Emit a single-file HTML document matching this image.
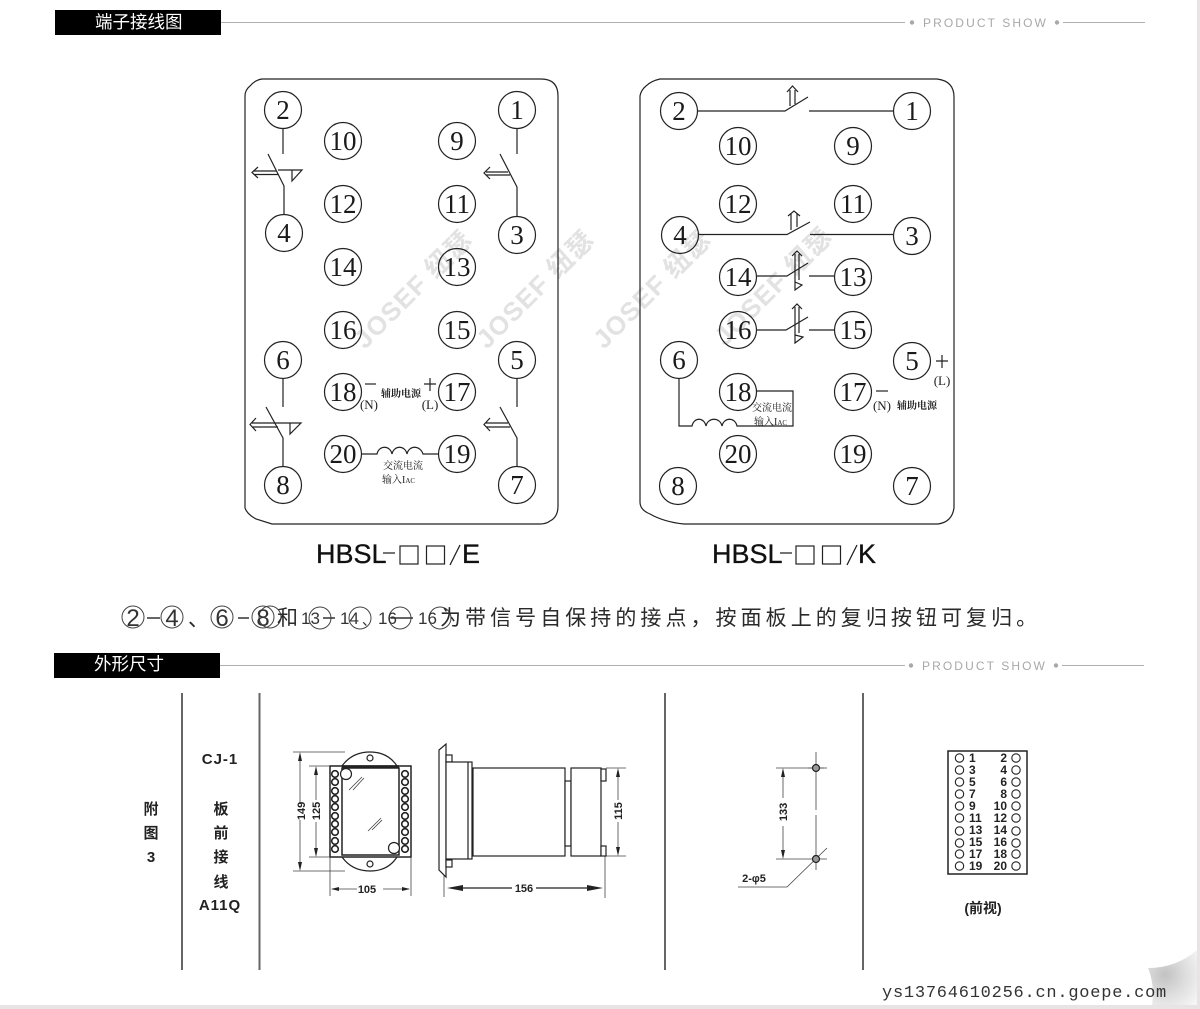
<!DOCTYPE html>
<html lang="zh">
<head>
<meta charset="utf-8">
<title>端子接线图</title>
<style>
html,body{margin:0;padding:0;background:#fff;width:1200px;height:1009px;overflow:hidden}
svg{display:block}
.n{font-family:"Liberation Serif","Noto Serif CJK SC",serif;font-size:27px;fill:#1a1a1a;text-anchor:middle}
.c{fill:none;stroke:#222;stroke-width:1.2}
.l{fill:none;stroke:#222;stroke-width:1.2}
.t{font-family:"Liberation Serif","Noto Serif CJK SC",serif;font-size:10px;fill:#222;text-anchor:middle}
.s{font-family:"Liberation Serif",serif;font-size:13px;fill:#222;text-anchor:middle}
.h{font-family:"Liberation Sans",sans-serif;font-size:27px;fill:#111;stroke:#111;stroke-width:.3}
.wm{font-family:"Liberation Sans","Noto Sans CJK SC",sans-serif;font-size:26px;font-weight:bold;fill:#e2e2e2;letter-spacing:1.2px}
.bar{font-family:"Liberation Sans","Noto Sans CJK SC",sans-serif;font-size:17.5px;fill:#fff}
.ps{font-family:"Liberation Sans",sans-serif;font-size:12px;fill:#a8a8a8;letter-spacing:2.1px}
.d{font-family:"Liberation Sans","Noto Sans CJK SC",sans-serif;font-size:11px;font-weight:bold;fill:#222;text-anchor:middle}
.b{font-family:"Liberation Sans","Noto Sans CJK SC",sans-serif;font-size:15px;font-weight:bold;fill:#222;text-anchor:middle}
.sn{font-family:"Liberation Sans",sans-serif;font-size:24px;fill:#333;text-anchor:middle}
.sm{font-family:"Liberation Sans",sans-serif;font-size:17px;fill:#333}
.cj{font-family:"Liberation Sans","Noto Sans CJK SC",sans-serif;font-size:21px;fill:#2a2a2a}
</style>
</head>
<body>
<svg width="1200" height="1009" viewBox="0 0 1200 1009" xmlns="http://www.w3.org/2000/svg">
<defs>
<radialGradient id="curl" gradientUnits="userSpaceOnUse" cx="1165" cy="975" r="42">
<stop offset="0" stop-color="#c2c2c2"/><stop offset="0.5" stop-color="#dedede"/><stop offset="1" stop-color="#f6f6f6"/>
</radialGradient>
</defs>
<rect width="1200" height="1009" fill="#fff"/>
<rect x="1197" y="0" width="3" height="1009" fill="#e8e4e6"/>
<rect x="0" y="1005" width="1200" height="4" fill="#e8e4e6"/>

<!-- watermarks -->
<g class="wm">
<text transform="translate(365,350) rotate(-45)">JOSEF 纽瑟</text>
<text transform="translate(487,350) rotate(-45)">JOSEF 纽瑟</text>
<text transform="translate(604,350) rotate(-45)">JOSEF 纽瑟</text>
<text transform="translate(725,347) rotate(-45)">JOSEF 纽瑟</text>
</g>

<!-- section headers -->
<rect x="55" y="10" width="166" height="25" fill="#000"/>
<text x="95" y="28" class="bar">端子接线图</text>
<path d="M221 22.5H905M1063 22.5H1145" stroke="#b0b0b0" stroke-width="1" fill="none"/>
<circle cx="912" cy="22.5" r="2.2" fill="#a8a8a8"/><circle cx="1057" cy="22.5" r="2.2" fill="#a8a8a8"/>
<text x="923" y="27" class="ps">PRODUCT SHOW</text>

<rect x="54" y="653" width="166" height="25" fill="#000"/>
<text x="94" y="670" class="bar">外形尺寸</text>
<path d="M220 665.5H905M1062 665.5H1144" stroke="#b0b0b0" stroke-width="1" fill="none"/>
<circle cx="911" cy="665.5" r="2.2" fill="#a8a8a8"/><circle cx="1056" cy="665.5" r="2.2" fill="#a8a8a8"/>
<text x="922" y="670" class="ps">PRODUCT SHOW</text>

<!-- left panel -->
<path class="l" d="M262 79H541Q558 79 558 96V506Q558 517 550 521Q546 524 540 524H272L256 519Q247 514 245 508V96Q245 90 250 86Q255 80 262 79Z"/>
<g class="c">
<circle cx="283" cy="110" r="18.5"/><circle cx="517" cy="110" r="18.5"/>
<circle cx="343" cy="141" r="18.5"/><circle cx="457" cy="141" r="18.5"/>
<circle cx="343" cy="204" r="18.5"/><circle cx="457" cy="204" r="18.5"/>
<circle cx="284" cy="233" r="18.5"/><circle cx="517" cy="235" r="18.5"/>
<circle cx="343" cy="267" r="18.5"/><circle cx="457" cy="267" r="18.5"/>
<circle cx="343" cy="330" r="18.5"/><circle cx="457" cy="330" r="18.5"/>
<circle cx="283" cy="360" r="18.5"/><circle cx="517" cy="360" r="18.5"/>
<circle cx="343" cy="392" r="18.5"/><circle cx="457" cy="392" r="18.5"/>
<circle cx="343" cy="454" r="18.5"/><circle cx="457" cy="454" r="18.5"/>
<circle cx="283" cy="485" r="18.5"/><circle cx="517" cy="485" r="18.5"/>
</g>
<g class="n">
<text x="283" y="119">2</text><text x="517" y="119">1</text>
<text x="343" y="150">10</text><text x="457" y="150">9</text>
<text x="343" y="213">12</text><text x="457" y="213">11</text>
<text x="284" y="242">4</text><text x="517" y="244">3</text>
<text x="343" y="276">14</text><text x="457" y="276">13</text>
<text x="343" y="339">16</text><text x="457" y="339">15</text>
<text x="283" y="369">6</text><text x="517" y="369">5</text>
<text x="343" y="401">18</text><text x="457" y="401">17</text>
<text x="343" y="463">20</text><text x="457" y="463">19</text>
<text x="283" y="494">8</text><text x="517" y="494">7</text>
</g>
<g class="l">
<path d="M283 129V154M268 154L284 186V214"/>
<path d="M254 171H276M254 174.5H278M258 167L252 172.5L258 178"/>
<path d="M278 170H302L292 181V170"/>
<path d="M517 129V154M500 154L517 187V216"/>
<path d="M486 172H508M486 175H510M490 167L484 173L490 179"/>
<path d="M283 378V407M266 407L283 438V466"/>
<path d="M252 423H276M252 427H278M256 418L250 424.5L256 431"/>
<path d="M276 423H301L290 434V423"/>
<path d="M517 378V407M500 407L517 438V466"/>
<path d="M486 423H508M486 427H510M490 418L484 424.5L490 431"/>
<path d="M362 454H377C379 445 390 445 392 454C394 445 405 445 407 454C409 445 420 445 423 454H438"/>
<path d="M365 384H376"/>
<path d="M424 384H436M430 378V391"/>
</g>
<text x="401" y="397" class="t" font-weight="bold">辅助电源</text>
<text x="369" y="409" class="s">(N)</text>
<text x="430" y="409" class="s">(L)</text>
<text x="403" y="469" class="t">交流电流</text>
<text x="382" y="483" class="t" style="text-anchor:start">输入I<tspan style="font-size:7px">AC</tspan></text>

<text x="316" y="563" class="h">HBSL</text>
<path d="M383 553H395M450 565L460 545" stroke="#222" stroke-width="1.3" fill="none"/>
<rect x="400" y="546" width="18" height="18" class="l"/>
<rect x="426.500" y="546" width="18" height="18" class="l"/>
<text x="462" y="563" class="h">E</text>

<!-- right panel -->
<path class="l" d="M660 79H937Q954 81 954 97V508Q952 522 938 524H684Q664 522 650 514Q640 510 640 502V96Q641 90 646 86Q651 81 660 79Z"/>
<g class="c">
<circle cx="679" cy="111" r="18.5"/><circle cx="912" cy="111" r="18.5"/>
<circle cx="738" cy="146" r="18.5"/><circle cx="853" cy="146" r="18.5"/>
<circle cx="738" cy="204" r="18.5"/><circle cx="853" cy="204" r="18.5"/>
<circle cx="680" cy="235" r="18.5"/><circle cx="912" cy="236" r="18.5"/>
<circle cx="738" cy="277" r="18.5"/><circle cx="853" cy="277" r="18.5"/>
<circle cx="738" cy="330" r="18.5"/><circle cx="853" cy="330" r="18.5"/>
<circle cx="679" cy="360" r="18.5"/><circle cx="912" cy="361" r="18.5"/>
<circle cx="738" cy="392" r="18.5"/><circle cx="853" cy="392" r="18.5"/>
<circle cx="738" cy="454" r="18.5"/><circle cx="853" cy="454" r="18.5"/>
<circle cx="678" cy="486" r="18.5"/><circle cx="912" cy="486" r="18.5"/>
</g>
<g class="n">
<text x="679" y="120">2</text><text x="912" y="120">1</text>
<text x="738" y="155">10</text><text x="853" y="155">9</text>
<text x="738" y="213">12</text><text x="853" y="213">11</text>
<text x="680" y="244">4</text><text x="912" y="245">3</text>
<text x="738" y="286">14</text><text x="853" y="286">13</text>
<text x="738" y="339">16</text><text x="853" y="339">15</text>
<text x="679" y="369">6</text><text x="912" y="370">5</text>
<text x="738" y="401">18</text><text x="853" y="401">17</text>
<text x="738" y="463">20</text><text x="853" y="463">19</text>
<text x="678" y="495">8</text><text x="912" y="495">7</text>
</g>
<g class="l">
<path d="M698 111H785L808 97M809 111H893"/>
<path d="M790 106V90M795 104V90M787 92L792.500 86L798 92"/>
<path d="M699 234.500H787L810 222M810 234.500H893"/>
<path d="M791 230V214M797 227V214M788 216L794 211L800 216"/>
<path d="M757 276H787L808 263M809 276H834"/>
<path d="M795 282V254M799 280V254M792 256L797 251L802 256M795 282V290L802 285L795 282"/>
<path d="M757 330H786L808 317M809 330H834"/>
<path d="M795 335V307M799 333V307M792 309L797 304L802 309M795 335V343L803 337L795 335"/>
<path d="M679 379V426H692C694 417 704 417 706 426C708 417 720 417 722 426C724 417 735 417 737 426H793V391H757"/>
<path d="M936 361H948M942 355V368"/>
<path d="M876 391H888"/>
</g>
<text x="942" y="385" class="s">(L)</text>
<text x="882" y="410" class="s">(N)</text>
<text x="917" y="409" class="t" font-weight="bold">辅助电源</text>
<text x="772" y="411" class="t">交流电流</text>
<text x="754" y="425" class="t" style="text-anchor:start">输入I<tspan style="font-size:7px">AC</tspan></text>

<text x="712" y="563" class="h">HBSL</text>
<path d="M780 553H792M847 565L857 545" stroke="#222" stroke-width="1.3" fill="none"/>
<rect x="796" y="546" width="18" height="18" class="l"/>
<rect x="822.500" y="546" width="18" height="18" class="l"/>
<text x="858" y="563" class="h">K</text>

<!-- note line -->
<g fill="none" stroke="#444" stroke-width="1">
<circle cx="133" cy="617" r="11"/><circle cx="172" cy="617" r="11"/>
<circle cx="222" cy="617" r="11"/><circle cx="263" cy="617" r="11"/><circle cx="270" cy="617" r="11"/>
<circle cx="320" cy="618" r="11"/><circle cx="360" cy="618" r="11"/><circle cx="400" cy="618" r="11"/><circle cx="440" cy="618" r="11"/>
<path d="M147 618H160M238 618H249M323 618H335M391 618H413" stroke-width="1.5" stroke="#333"/>
</g>
<g class="sn">
<text x="133" y="626">2</text><text x="172" y="626">4</text>
<text x="222" y="626">6</text><text x="263" y="626">8</text>
</g>
<text x="188" y="626" class="cj">、</text>
<text x="277" y="625" class="cj">和</text>
<text x="301" y="624" class="sm" textLength="19">13</text>
<text x="340" y="624" class="sm" textLength="19">14</text>
<text x="362" y="625" class="cj" style="font-size:14px">、</text>
<text x="378" y="624" class="sm" textLength="19">16</text>
<text x="418" y="624" class="sm" textLength="19">16</text>
<text x="440" y="625" class="cj" style="letter-spacing:4.05px">为带信号自保持的接点，按面板上的复归按钮可复归。</text>

<!-- table rules -->
<path d="M182 693V970M259.500 693V970M665 693V970M863 693V970" stroke="#666" stroke-width="2" fill="none"/>
<g class="b">
<text x="151" y="814">附</text><text x="151" y="838">图</text><text x="151" y="862">3</text>
<text x="220" y="764" style="letter-spacing:1px">CJ-1</text>
<text x="221" y="814">板</text><text x="221" y="838">前</text><text x="221" y="862">接</text><text x="221" y="887">线</text>
<text x="220" y="910" style="letter-spacing:1px">A11Q</text>
</g>

<!-- front view -->
<g fill="none" stroke="#222" stroke-width="1.2">
<path d="M342 766Q352 752 370 752Q388 752 397 766"/>
<path d="M342 857Q352 871 370 871Q388 871 397 857"/>
<circle cx="370" cy="758" r="3"/><circle cx="370" cy="864" r="3"/>
<rect x="330" y="766" width="81" height="91" stroke-width="1.500"/>
<rect x="342" y="768" width="57" height="87" stroke-width="1.500"/>
<path d="M342 766.500H399" stroke-width="2.500"/>
</g>
<g fill="#fff" stroke="#222" stroke-width="1.6">
<circle cx="335" cy="774" r="3.300"/><circle cx="335" cy="782" r="3.300"/><circle cx="335" cy="791" r="3.300"/><circle cx="335" cy="799" r="3.300"/><circle cx="335" cy="807" r="3.300"/><circle cx="335" cy="816" r="3.300"/><circle cx="335" cy="824" r="3.300"/><circle cx="335" cy="832" r="3.300"/><circle cx="335" cy="841" r="3.300"/><circle cx="335" cy="849" r="3.300"/>
<circle cx="405" cy="774" r="3.300"/><circle cx="405" cy="782" r="3.300"/><circle cx="405" cy="791" r="3.300"/><circle cx="405" cy="799" r="3.300"/><circle cx="405" cy="807" r="3.300"/><circle cx="405" cy="816" r="3.300"/><circle cx="405" cy="824" r="3.300"/><circle cx="405" cy="832" r="3.300"/><circle cx="405" cy="841" r="3.300"/><circle cx="405" cy="849" r="3.300"/>
</g>
<g fill="#fff" stroke="#222" stroke-width="1.2">
<circle cx="346" cy="774" r="5.500"/><circle cx="394" cy="848" r="5.500"/>
</g>
<g fill="none" stroke="#444" stroke-width="0.8">
<path d="M349 790L362 777M353 790L364 778M368 831L381 818M372 830L382 820"/>
<path d="M293 752H345M293 871H345M309 766H330M309 857H330"/>
<path d="M300 754V804M300 820V869M316 768V800M316 822V855"/>
<path d="M330 857V896M411 857V896M332 889H357M383 889H409"/>
<path d="M444 859V897M605 856V898M606 768H626M606 856H626"/>
<path d="M618 770V800M618 822V854"/>
<path d="M776 768H827M776 859H827M783 770V798M783 826V857"/>
<path d="M816 752V810M816 815V870M808 768H824"/>
<path d="M827 848L787 887H738"/>
</g>
<g fill="#222">
<path d="M300 752l-2 9h4zM300 871l-2-9h4zM316 766l-2 9h4zM316 857l-2-9h4z"/>
<path d="M331 889l8-2v4zM410 889l-8-2v4z"/>
<path d="M618 768l-2 9h4zM618 856l-2-9h4z"/>
<path d="M783 768l-2 9h4zM783 859l-2-9h4z"/>
<path d="M447 888l16-3v6zM603 888l-16-3v6z"/>
</g>
<path d="M462 888H512M536 888H590" stroke="#222" stroke-width="1.200"/>
<g class="d">
<text transform="translate(305,811) rotate(-90)">149</text>
<text transform="translate(320,811) rotate(-90)">125</text>
<text x="367" y="893">105</text>
<text x="524" y="892">156</text>
<text transform="translate(622,811) rotate(-90)">115</text>
<text transform="translate(787,812) rotate(-90)">133</text>
<text x="754" y="882">2-φ5</text>
</g>

<!-- side view -->
<g fill="#fff" stroke="#222" stroke-width="1.200">
<path d="M439 750L446 744V877L439 870Z"/>
<rect x="446" y="755" width="6" height="7"/>
<rect x="446" y="860" width="6" height="7"/>
<rect x="446" y="762" width="26" height="97"/>
<path d="M468 762V859" fill="none"/>
<rect x="473" y="768" width="92" height="88"/>
<rect x="565" y="781" width="6" height="65"/>
<rect x="571" y="768" width="30" height="88"/>
<rect x="601" y="769" width="5" height="12"/>
<rect x="601" y="846" width="5" height="10"/>
</g>

<!-- mounting holes -->
<g fill="#999" stroke="#222" stroke-width="1.200">
<circle cx="816" cy="768" r="3.500"/><circle cx="816" cy="859" r="3.500"/>
</g>

<!-- terminal plate -->
<rect x="948" y="751" width="79" height="123" fill="none" stroke="#222" stroke-width="1.500"/>
<g fill="none" stroke="#222" stroke-width="1.100">
<circle cx="959.500" cy="758" r="4.200"/><circle cx="959.500" cy="770" r="4.200"/><circle cx="959.500" cy="782" r="4.200"/><circle cx="959.500" cy="794" r="4.200"/><circle cx="959.500" cy="806" r="4.200"/><circle cx="959.500" cy="818" r="4.200"/><circle cx="959.500" cy="831" r="4.200"/><circle cx="959.500" cy="843" r="4.200"/><circle cx="959.500" cy="854" r="4.200"/><circle cx="959.500" cy="866" r="4.200"/>
<circle cx="1016" cy="758" r="4.200"/><circle cx="1016" cy="770" r="4.200"/><circle cx="1016" cy="782" r="4.200"/><circle cx="1016" cy="794" r="4.200"/><circle cx="1016" cy="806" r="4.200"/><circle cx="1016" cy="818" r="4.200"/><circle cx="1016" cy="831" r="4.200"/><circle cx="1016" cy="843" r="4.200"/><circle cx="1016" cy="854" r="4.200"/><circle cx="1016" cy="866" r="4.200"/>
</g>
<g class="d" style="text-anchor:start;font-size:12px">
<text x="969" y="762">1</text><text x="969" y="774">3</text><text x="969" y="786">5</text><text x="969" y="798">7</text><text x="969" y="810">9</text><text x="969" y="822">11</text><text x="969" y="834">13</text><text x="969" y="846">15</text><text x="969" y="858">17</text><text x="969" y="870">19</text>
</g>
<g class="d" style="text-anchor:end;font-size:12px">
<text x="1007" y="762">2</text><text x="1007" y="774">4</text><text x="1007" y="786">6</text><text x="1007" y="798">8</text><text x="1007" y="810">10</text><text x="1007" y="822">12</text><text x="1007" y="834">14</text><text x="1007" y="846">16</text><text x="1007" y="858">18</text><text x="1007" y="870">20</text>
</g>
<text x="983" y="913" class="d" style="font-size:14px">(前视)</text>

<!-- page curl -->
<path d="M1148 968Q1176 968 1197 950V1005H1152Q1155 985 1148 968Z" fill="url(#curl)"/>

<!-- footer -->
<text x="882" y="997" style="font-family:'Liberation Mono',monospace;font-size:17px;letter-spacing:.76px;fill:#333">ys13764610256.cn.goepe.com</text>
</svg>
</body>
</html>
